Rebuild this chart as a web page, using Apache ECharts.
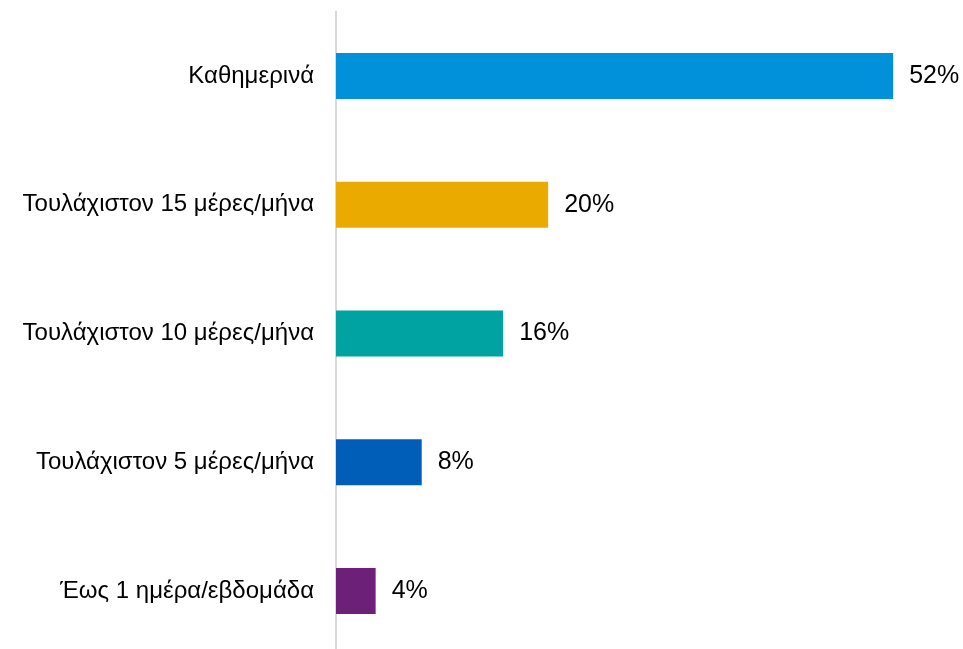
<!DOCTYPE html>
<html>
<head>
<meta charset="utf-8">
<script src="https://cdn.jsdelivr.net/npm/echarts@6/dist/echarts.min.js"></script>
<style>
html,body{margin:0;padding:0;background:#fff;}
#chart{width:963px;height:649px;}
</style>
</head>
<body>
<div id="chart"></div>
<script>
const categories = ["Καθημερινά", "Τουλάχιστον 15 μέρες/μήνα", "Τουλάχιστον 10 μέρες/μήνα", "Τουλάχιστον 5 μέρες/μήνα", "Έως 1 ημέρα/εβδομάδα"];
const values = [52, 19.8, 15.6, 8, 3.7];
const valueLabels = ["52%", "20%", "16%", "8%", "4%"];
const barColors = ["#0091DA", "#EAAA00", "#00A3A1", "#005EB8", "#6D2077"];

const chart = echarts.init(document.getElementById('chart'), null, {renderer: 'canvas'});
chart.setOption({
  animation: false,
  backgroundColor: '#ffffff',
  grid: {left: 336, top: 11.5, width: 600, height: 644, containLabel: false, outerBoundsMode: 'none'},
  xAxis: {
    type: 'value', min: 0, max: 56,
    show: false
  },
  yAxis: {
    type: 'category', data: categories, inverse: true,
    axisLine: {show: true, lineStyle: {color: '#d9d9d9', width: 2}},
    axisTick: {show: false},
    axisLabel: {color: '#000000', fontFamily: 'Liberation Sans, Arial, sans-serif', fontSize: 24, margin: 22}
  },
  series: [{
    type: 'bar',
    barWidth: 46,
    data: values.map((v, i) => ({value: v, itemStyle: {color: barColors[i]}})),
    label: {
      show: true, position: 'right', distance: 16,
      color: '#000000', fontFamily: 'Liberation Sans, Arial, sans-serif', fontSize: 25,
      formatter: p => valueLabels[p.dataIndex]
    }
  }]
});
</script>
</body>
</html>
